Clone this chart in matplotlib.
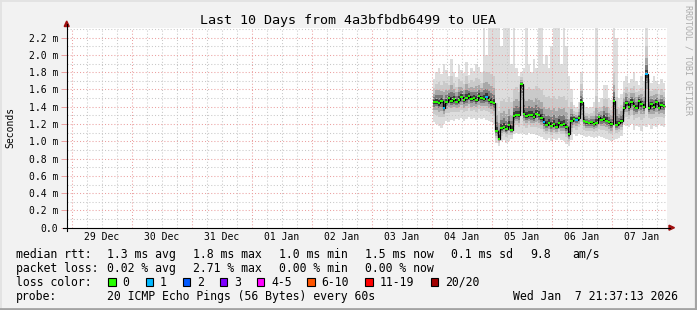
import numpy as np
import pandas as pd
import matplotlib
matplotlib.use("Agg")
import matplotlib.pyplot as plt
import matplotlib.dates as mdates
from matplotlib.patches import Rectangle, Polygon
from matplotlib.lines import Line2D

# hourly samples starting 2026-01-04 01:00, values in ms
median_ms = [1.45, 1.46, 1.44, 1.47, 1.39, 1.45, 1.50, 1.47, 1.49, 1.46, 1.48, 1.51,
             1.48, 1.50, 1.53, 1.49, 1.50, 1.48, 1.52, 1.50, 1.49, 1.51, 1.48, 1.46,
             1.44, 1.12, 1.03, 1.15, 1.17, 1.14, 1.19, 1.13,
             1.29, 1.31, 1.30, 1.66, 1.32, 1.29, 1.31, 1.30, 1.28, 1.32, 1.30, 1.27,
             1.22, 1.19, 1.21, 1.18, 1.20, 1.17, 1.21, 1.19, 1.20, 1.16, 1.08, 1.24,
             1.26, 1.25, 1.27, 1.45, 1.24, 1.22, 1.21, 1.22, 1.20, 1.21,
             1.28, 1.25, 1.26, 1.24, 1.22, 1.20, 1.47, 1.19, 1.21, 1.23,
             1.38, 1.44, 1.40, 1.46, 1.41, 1.39, 1.47, 1.43, 1.40, 1.78, 1.38, 1.43,
             1.40, 1.45, 1.39, 1.42, 1.41]
smoke_hi_ms = [1.72, 1.80, 1.85, 1.78, 1.90, 1.82, 1.76, 1.95, 1.80, 1.74, 1.88, 1.83,
               1.79, 1.92, 1.77, 1.85, 1.81, 1.90, 1.86, 1.80,
               2.31, 2.00, 2.31, 2.31, 2.31, 2.31, 2.31, 2.10, 2.31, 2.31, 2.31, 1.90, 2.31,
               1.85, 1.75, 1.80, 1.85, 2.31, 1.90, 1.80, 1.95, 1.85, 2.31, 2.31, 1.90,
               2.00, 1.85, 2.10, 2.31, 2.31, 2.31, 1.90, 2.31, 2.10, 1.75, 1.60,
               1.42, 1.40, 1.45, 1.80, 1.42, 1.40, 1.38, 1.40, 1.45, 2.31,
               1.45, 1.50, 1.65, 1.65, 1.50, 1.48, 2.31, 2.20, 1.50, 1.55,
               1.70, 1.75, 1.68, 1.72, 1.80, 1.70, 1.65, 1.75, 1.70, 2.31, 1.72, 1.68,
               1.75, 1.70, 1.66, 1.72, 1.68]
smoke_lo_ms = [1.22, 1.20, 1.18, 1.15, 1.20, 1.24, 1.22, 1.25, 1.24, 1.26, 1.25, 1.27,
               1.24, 1.26, 1.28, 1.26, 1.27, 1.25, 1.27, 1.26, 1.27, 1.25, 1.24, 1.22,
               1.20, 0.98, 0.95, 1.00, 1.02, 0.98, 1.00, 1.03,
               1.08, 1.10, 1.08, 1.10, 1.09, 1.07, 1.10, 1.08, 1.09, 1.07, 1.06, 1.05,
               1.03, 1.01, 1.04, 1.00, 1.03, 1.02, 1.04, 1.01, 1.00, 0.97, 0.95, 1.02,
               1.08, 1.06, 1.09, 1.07, 1.06, 1.05, 1.06, 1.05, 1.04, 1.05,
               1.06, 1.05, 1.04, 1.03, 1.02, 1.00, 1.02, 1.03, 1.04, 1.06,
               1.20, 1.18, 1.16, 1.20, 1.13, 1.18, 1.16, 1.12, 1.18, 1.16, 1.20, 1.14,
               1.18, 1.16, 1.20, 1.18, 1.17]
loss_hours = [5, 22, 45, 58, 86]   # hours with 1/20 loss

day_labels = ["29 Dec", "30 Dec", "31 Dec", "01 Jan", "02 Jan",
              "03 Jan", "04 Jan", "05 Jan", "06 Jan", "07 Jan"]
y_ticks = [0.0, 0.2, 0.4, 0.6, 0.8, 1.0, 1.2, 1.4, 1.6, 1.8, 2.0, 2.2]

loss_names = ["0", "1", "2", "3", "4-5", "6-10", "11-19", "20/20"]
loss_colors = ["#26ff00", "#00b8ff", "#0059ff", "#7e00ff",
               "#ff00ff", "#ff5500", "#ff0000", "#a10000"]

W, H = 697, 310
def fx(p):
    return p / W
def fy(p):
    return 1 - p / H

MONO = "DejaVu Sans Mono"
fig = plt.figure(figsize=(W / 100, H / 100), dpi=100, facecolor="#f2f2f2")

ax = fig.add_axes([fx(66.7), fy(227.7), 600 / W, 200 / H])
ax.set_facecolor("white")
for s in ax.spines.values():
    s.set_visible(False)

t0 = pd.Timestamp("2025-12-28 22:00")
t1 = pd.Timestamp("2026-01-07 22:00")
ax.set_xlim(t0, t1)
ax.set_ylim(0, 200 / 86.4)

med = np.array(median_ms)
hi = np.array(smoke_hi_ms)
lo = np.array(smoke_lo_ms)
edges = mdates.date2num(pd.date_range("2026-01-04 00:30", periods=len(med) + 1, freq="h"))

# smoke: light outer band then darker bands closer to the median
layers = [(1.0, 9.0, "#dddddd"), (0.6, 0.32, "#cacaca"), (0.38, 0.18, "#a8a8a8"),
          (0.22, 0.10, "#7a7a7a"), (0.1, 0.045, "#3c3c3c")]
for f, cap, c in layers:
    up = med + np.minimum((hi - med) * f, cap)
    dn = med - np.minimum((med - lo) * f, cap)
    ax.stairs(up, edges, baseline=dn, fill=True, color=c, lw=0, zorder=2)

# grid, dotted
grid_red = "#eba0a0"
grid_gray = "#c8c8c8"
gkw = dict(lw=0.75, ls=(0, (1, 2)), zorder=3)
for d in pd.date_range("2025-12-29 06:00", "2026-01-07 18:00", freq="6h"):
    if d.hour != 0:
        ax.axvline(d, color=grid_gray, **gkw)
for d in pd.date_range("2025-12-29", "2026-01-07", freq="D"):
    ax.axvline(d, color=grid_red, **gkw)
for v in np.arange(1, 24, 2) / 10:
    ax.axhline(v, color=grid_gray, **gkw)
for v in y_ticks[1:]:
    ax.axhline(v, color=grid_red, **gkw)

# median line
ax.stairs(med, edges, baseline=None, color="black", lw=0.9, zorder=4)
seg_col = [loss_colors[1] if (i + 1) in loss_hours else loss_colors[0] for i in range(len(med))]
ax.hlines(med, edges[:-1], edges[1:], colors=seg_col, lw=1.4, zorder=5)

# ticks
ax.set_yticks(y_ticks)
ax.set_yticklabels(["0.0"] + ["%.1f m" % v for v in y_ticks[1:]], fontsize=7, family=MONO)
ax.tick_params(axis="y", length=4, width=0.7, color=grid_red, pad=2)
noons = pd.date_range("2025-12-29 12:00", periods=10, freq="D")
ax.set_xticks(noons)
ax.set_xticklabels(day_labels, fontsize=7, family=MONO)
ax.tick_params(axis="x", length=0, pad=3.3)

# axes with arrows
fig.add_artist(Line2D([fx(66.7), fx(66.7)], [fy(230.5), fy(24)], color="black", lw=0.8))
fig.add_artist(Line2D([fx(63), fx(670)], [fy(227.7), fy(227.7)], color="black", lw=0.8))
fig.add_artist(Polygon([[fx(64.2), fy(26.5)], [fx(69.2), fy(26.5)], [fx(66.7), fy(21)]],
                       closed=True, color="#a01010"))
fig.add_artist(Polygon([[fx(669), fy(225.2)], [fx(669), fy(230.2)], [fx(674.5), fy(227.7)]],
                       closed=True, color="#a01010"))

# titles
fig.text(fx(348.5), fy(24), "Last 10 Days from 4a3bfbdb6499 to UEA",
         ha="center", va="baseline", fontsize=9.6, family=MONO)
fig.text(fx(10), fy(127.7), "Seconds", rotation=90, ha="center", va="center",
         fontsize=7, family=MONO)
fig.text(fx(688), fy(5), "RRDTOOL / TOBI OETIKER", rotation=270, ha="center", va="top",
         fontsize=6, family=MONO, color="#ababab")

# legend
LFS = 8.3
cols = [107.3, 192.7, 279.3, 365.3, 451, 530, 572.3]
rtt_items = ["1.3 ms avg", "1.8 ms max", "1.0 ms min", "1.5 ms now", "0.1 ms sd", "9.8", "am/s"]
loss_items = ["0.02 % avg", "2.71 % max", "0.00 % min", "0.00 % now"]
fig.text(fx(16), fy(257.7), "median rtt:", fontsize=LFS, family=MONO, va="baseline")
for x, s in zip(cols, rtt_items):
    fig.text(fx(x), fy(257.7), s, fontsize=LFS, family=MONO, va="baseline")
fig.text(fx(16), fy(271.7), "packet loss:", fontsize=LFS, family=MONO, va="baseline")
for x, s in zip(cols, loss_items):
    fig.text(fx(x), fy(271.7), s, fontsize=LFS, family=MONO, va="baseline")
fig.text(fx(16), fy(285.7), "loss color:", fontsize=LFS, family=MONO, va="baseline")
box_x = [108.3, 145.7, 182.7, 219.7, 256.7, 307.3, 365.3, 430.7]
for bx, name, c in zip(box_x, loss_names, loss_colors):
    fig.add_artist(Rectangle((fx(bx), fy(285.7)), 7.5 / W, 8 / H, facecolor=c,
                             edgecolor="black", lw=0.8))
    fig.text(fx(bx + 14.4), fy(285.7), name, fontsize=LFS, family=MONO, va="baseline")
fig.text(fx(16), fy(299.7), "probe:", fontsize=LFS, family=MONO, va="baseline")
fig.text(fx(107.3), fy(299.7), "20 ICMP Echo Pings (56 Bytes) every 60s",
         fontsize=LFS, family=MONO, va="baseline")
fig.text(fx(512.7), fy(299.7), "Wed Jan  7 21:37:13 2026",
         fontsize=LFS, family=MONO, va="baseline")

# 3d frame
fig.add_artist(Line2D([0, 1], [fy(0.8), fy(0.8)], color="#e2e2e2", lw=1.3))
fig.add_artist(Line2D([fx(0.8), fx(0.8)], [0, 1], color="#e2e2e2", lw=1.3))
fig.add_artist(Line2D([fx(695.8), fx(695.8)], [0, 1], color="#a3a3a3", lw=1.6))
fig.add_artist(Line2D([0, 1], [fy(308.5), fy(308.5)], color="#a3a3a3", lw=2.0))

fig.savefig("out.png", dpi=100, facecolor=fig.get_facecolor())
